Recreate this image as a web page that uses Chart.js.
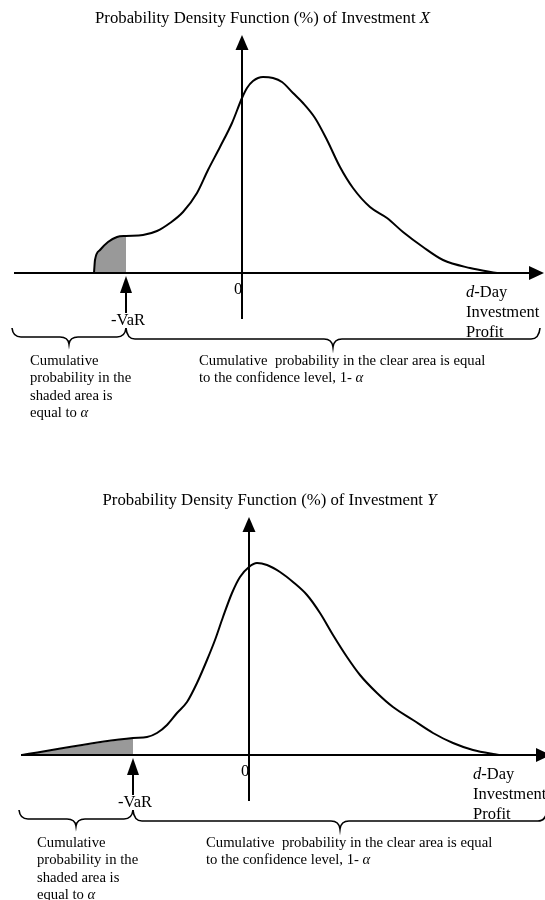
<!DOCTYPE html>
<html>
<head>
<meta charset="utf-8">
<title>VaR density sketch</title>
<script src="https://cdn.jsdelivr.net/npm/chart.js"></script>
<style>
  body { margin: 0; background: #fff; }
  canvas { display: block; }
</style>
</head>
<body>
<canvas id="chartX" width="545" height="450"></canvas>
<canvas id="chartY" width="545" height="450"></canvas>
<script>
// investment X : d-day profit vs density
const profitX = [-148, -147, -142, -134, -125, -116, -99, -85, -72, -59, -45, -34, -22, -10, 0, 5, 11, 21, 31, 40, 51, 61, 73, 85, 98, 111, 128, 145, 161, 181, 201, 228, 255];
const densityX = [0, 13, 23, 31, 36, 37, 38, 42, 50, 61, 80, 103, 126, 150, 175, 185, 192, 196, 195, 191, 180, 170, 155, 133, 106, 85, 66, 55, 41, 26, 13, 5, 0];
const varX = -116;

// investment Y
const profitY = [-227, -116, -102, -92, -82, -72, -62, -52, -42, -34, -26, -17, -9, 0, 8, 18, 31, 44, 58, 71, 84, 98, 111, 128, 144, 164, 184, 204, 224, 244, 251];
const densityY = [0, 17, 18, 22, 30, 42, 53, 72, 95, 115, 138, 162, 178, 188, 192, 190, 183, 173, 160, 142, 120, 98, 80, 62, 48, 35, 22, 12, 5, 1, 0];
const varY = -116;

const SERIF = '"Liberation Serif", "Times New Roman", serif';

// one line of text made of [text, style] runs, alphabetic baseline
function runs(ctx, parts, x, y, size, align) {
  let w = 0;
  parts.forEach(p => { ctx.font = p[1] + size + 'px ' + SERIF; w += ctx.measureText(p[0]).width; });
  let cx = align === 'center' ? x - w / 2 : x;
  ctx.textAlign = 'left';
  parts.forEach(p => {
    ctx.font = p[1] + size + 'px ' + SERIF;
    ctx.fillText(p[0], cx, y);
    cx += ctx.measureText(p[0]).width;
  });
}

// curly brace opening downward
function brace(ctx, x1, x2, top, flat, tip) {
  const xm = (x1 + x2) / 2, c = 9;
  ctx.beginPath();
  ctx.moveTo(x1, top);
  ctx.quadraticCurveTo(x1 + 1, flat, x1 + c, flat);
  ctx.lineTo(xm - c, flat);
  ctx.quadraticCurveTo(xm - 1, flat, xm, tip);
  ctx.quadraticCurveTo(xm + 1, flat, xm + c, flat);
  ctx.lineTo(x2 - c, flat);
  ctx.quadraticCurveTo(x2 - 1, flat, x2, top);
  ctx.stroke();
}

function tri(ctx, a, b, c) {
  ctx.beginPath();
  ctx.moveTo(a[0], a[1]); ctx.lineTo(b[0], b[1]); ctx.lineTo(c[0], c[1]);
  ctx.closePath();
  ctx.fill();
}

const diagram = {
  id: 'diagram',
  afterDatasetsDraw(chart, args, o) {
    const ctx = chart.ctx;
    const ox = chart.scales.x.getPixelForValue(0);
    const oy = chart.scales.y.getPixelForValue(0);
    const vx = chart.scales.x.getPixelForValue(o.vaR);
    ctx.save();
    ctx.fillStyle = '#000';
    ctx.strokeStyle = '#000';
    ctx.textBaseline = 'alphabetic';

    runs(ctx, [['0', '']], ox - 4, oy + 21, 16.5, 'center');

    // axes with arrow heads
    ctx.lineWidth = 2;
    ctx.beginPath();
    ctx.moveTo(ox - 228, oy); ctx.lineTo(ox + 290, oy);
    ctx.moveTo(ox, oy - 225); ctx.lineTo(ox, oy + 46);
    ctx.stroke();
    tri(ctx, [ox + 302, oy], [ox + 287, oy - 7], [ox + 287, oy + 7]);
    tri(ctx, [ox, oy - 238], [ox - 6.5, oy - 223], [ox + 6.5, oy - 223]);

    // -VaR pointer
    ctx.beginPath();
    ctx.moveTo(vx, oy + 18); ctx.lineTo(vx, oy + 40);
    ctx.stroke();
    tri(ctx, [vx, oy + 3], [vx - 6, oy + 20], [vx + 6, oy + 20]);

    // braces
    ctx.lineWidth = 1.6;
    brace(ctx, ox - 230, vx, oy + 55, oy + 64, oy + 71);
    brace(ctx, vx, ox + 298, oy + 55, oy + 66, oy + 74);

    runs(ctx, [['Probability Density Function (%) of Investment ', ''], [o.name, 'italic ']], ox + 20.5, oy - 250, 16.75, 'center');
    runs(ctx, [['-VaR', '']], vx + 2, oy + 52, 16.5, 'center');
    runs(ctx, [['d', 'italic '], ['-Day', '']], ox + 224, oy + 24, 16.5, 'left');
    runs(ctx, [['Investment', '']], ox + 224, oy + 44, 16.5, 'left');
    runs(ctx, [['Profit', '']], ox + 224, oy + 64, 16.5, 'left');

    const lh = 17.4;
    const left = [[['Cumulative', '']], [['probability in the', '']], [['shaded area is', '']], [['equal to ', ''], ['\u03b1', 'italic ']]];
    left.forEach((l, i) => runs(ctx, l, ox - 212, oy + 92 + i * lh, 14.7, 'left'));
    const right = [[['Cumulative  probability in the clear area is equal', '']], [['to the confidence level, 1- ', ''], ['\u03b1', 'italic ']]];
    right.forEach((l, i) => runs(ctx, l, ox - 43, oy + 92 + i * lh, 14.7, 'left'));
    ctx.restore();
  }
};

function makeChart(id, name, xs, ys, vaR, xMin, xMax, yMin, yMax) {
  const pts = xs.map((x, i) => ({ x: x, y: ys[i] }));
  return new Chart(document.getElementById(id), {
    type: 'line',
    data: {
      datasets: [
        { data: pts, borderColor: '#000', borderWidth: 2, pointRadius: 0, fill: false, cubicInterpolationMode: 'monotone' },
        { data: pts.filter(p => p.x <= vaR), borderWidth: 0, borderColor: 'rgba(0,0,0,0)', backgroundColor: '#999999', pointRadius: 0, fill: 'origin', cubicInterpolationMode: 'monotone' }
      ]
    },
    options: {
      responsive: false,
      animation: false,
      devicePixelRatio: 1,
      events: [],
      layout: { padding: 0 },
      scales: {
        x: { type: 'linear', display: false, min: xMin, max: xMax },
        y: { type: 'linear', display: false, min: yMin, max: yMax }
      },
      plugins: {
        legend: { display: false },
        tooltip: { enabled: false },
        diagram: { name: name, vaR: vaR }
      }
    },
    plugins: [diagram]
  });
}

makeChart('chartX', 'X', profitX, densityX, varX, -242, 303, -177, 273);
makeChart('chartY', 'Y', profitY, densityY, varY, -249, 296, -145, 305);
</script>
</body>
</html>
